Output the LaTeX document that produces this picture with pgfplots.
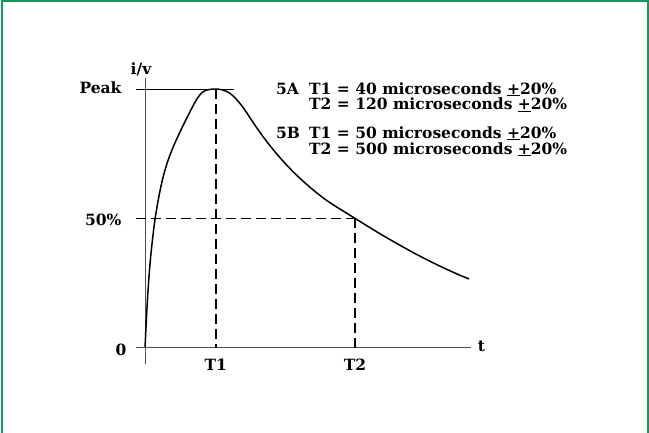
\documentclass[border=0pt]{standalone}
\usepackage{pgfplots}
\pgfplotsset{compat=1.18}
\usepackage{fontspec}
\setmainfont{DejaVu Serif}
\definecolor{frameg}{RGB}{20,150,90}
\newcommand\lf{\bfseries\fontsize{15.5}{18}\selectfont}
\begin{document}
\begin{tikzpicture}[x=1pt,y=1pt]
\useasboundingbox (0,0) rectangle (649,432);
\draw[frameg, line width=2pt] (1.5,-3) -- (1.5,430.5) -- (647.5,430.5) -- (647.5,-3);
\begin{axis}[at={(136pt,68pt)}, anchor=south west, x=1pt, y=2.587pt,
  xmin=-9, xmax=326, ymin=-6.3, ymax=104.3,
  axis lines=none, clip=false, scale only axis]
\addplot[black!70, line width=1pt] coordinates {(-9,0) (326,0)};
\addplot[black!70, line width=1pt] coordinates {(0,-6.3) (0,104.3)};
\addplot[black, line width=1pt] coordinates {(-9,100) (89,100)};
\addplot[black, line width=1.6pt, dash pattern=on 10pt off 5pt] coordinates {(70.7,100) (70.7,0)};
\addplot[black, line width=1.6pt, dash pattern=on 10pt off 5pt] coordinates {(210,50) (210,0)};
\addplot[black, line width=1.6pt, dash pattern=on 10pt off 5pt] coordinates {(-9,50) (210,50)};
\addplot[black, line width=1.5pt, smooth] coordinates {
(0,0) (0.5,4) (1,8) (2,15.5) (3,22) (4.5,30) (6,36.5) (8,43.5) (10,49.6)
(12.5,55.5) (15,60.6) (18,65.8) (21.5,70.6) (25.5,75.0) (30,79.2) (35,83.4)
(40,87.4) (45,91.2) (49,94.2) (53,96.8) (57,98.6) (61,99.5) (66,99.9) (71,100)
(77,99.7) (82,99.0) (86,98.0) (90,96.6) (95,94.4) (100,91.8) (110,86.0)
(120,80.6) (130,75.7) (140,71.3) (150,67.3) (160,63.7) (170,60.4) (180,57.4)
(190,54.8) (200,52.4) (210,50.0) (225,46.4) (240,42.9) (255,39.6) (270,36.4)
(285,33.4) (300,30.6) (315,28.0) (324,26.6)};
\end{axis}
\node[anchor=base east, font=\lf] at (125,338) {Peak};
\node[anchor=base east, font=\lf] at (125,206) {50\%};
\node[anchor=base east, font=\lf] at (130,76.3) {0};
\node[anchor=base, font=\lf] at (215.7,62) {T1};
\node[anchor=base, font=\lf] at (355,62) {T2};
\node[anchor=base, font=\lf] at (481.5,80.3) {t};
\node[anchor=base, font=\lf] at (141,357) {i/v};
\node[anchor=base west, font=\lf, inner xsep=0pt] at (276,337.7) {5A};
\node[anchor=base west, font=\lf, inner xsep=0pt] at (309,337.7) {T1 = 40 microseconds \underline{+}20\%};
\node[anchor=base west, font=\lf, inner xsep=0pt] at (309,322) {T2 = 120 microseconds \underline{+}20\%};
\node[anchor=base west, font=\lf, inner xsep=0pt] at (276,293.7) {5B};
\node[anchor=base west, font=\lf, inner xsep=0pt] at (309,293.7) {T1 = 50 microseconds \underline{+}20\%};
\node[anchor=base west, font=\lf, inner xsep=0pt] at (309,277.7) {T2 = 500 microseconds \underline{+}20\%};
\end{tikzpicture}
\end{document}
